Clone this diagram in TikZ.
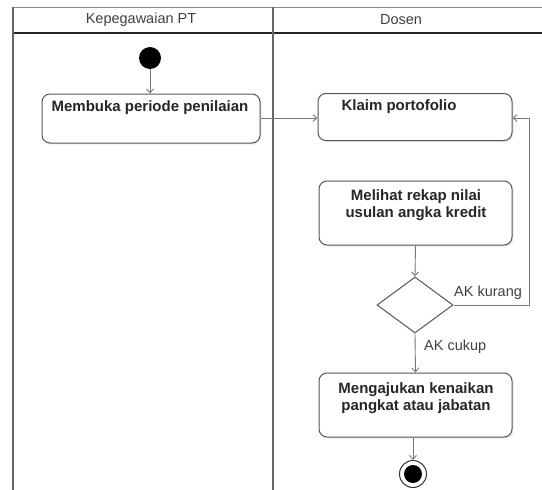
\documentclass[tikz,border=0pt]{standalone}
\usepackage{fontspec}
\setmainfont{Liberation Sans}
\usetikzlibrary{arrows.meta,shapes.geometric,shadows}
\definecolor{lanec}{HTML}{666666}
\definecolor{boxc}{HTML}{555555}
\definecolor{arrc}{HTML}{777777}
\tikzset{
  act/.style={draw=boxc, line width=1pt, rounded corners=8pt, fill=white,
    drop shadow={opacity=0.15, shadow xshift=1.5pt, shadow yshift=-1.5pt},
    minimum width=#1, inner sep=0pt},
  acttext/.style={font=\bfseries\fontsize{15}{17}\selectfont, text=black!85, align=center, inner sep=0pt},
  flow/.style={draw=arrc, line width=0.9pt, -{Straight Barb[length=4pt,width=7pt]}},
  lbl/.style={font=\fontsize{14.5}{16}\selectfont, text=black!75, inner sep=0pt},
  lane/.style={draw=lanec, line width=1.6pt},
}
\begin{document}
\begin{tikzpicture}[x=1pt,y=-1pt]
\useasboundingbox (0,0) rectangle (542,490);
% swimlanes
\draw[draw=black!45, line width=1pt] (13,7) -- (542,7);
\draw[draw=black!85, line width=1.3pt] (13,33) -- (542,33);
\draw[lane] (13,7) -- (13,490);
\draw[lane] (273,7) -- (273,490);
\node[lbl, font=\fontsize{14.5}{16}\selectfont] (h1) at (141,20) {Kepegawaian PT};
\node[lbl, font=\fontsize{14.5}{16}\selectfont] (h2) at (401,20) {Dosen};
% start
\node[circle, fill=black, minimum size=22pt, inner sep=0pt] (start) at (150,58) {};
% activities
\node[act=218pt, minimum height=49pt] (b1) at (151,118.5) {};
\node[acttext] (t1) at (150,108) {Membuka periode penilaian};
\node[act=194pt, minimum height=47pt] (b2) at (415,117) {};
\node[acttext] (t2) at (399,107) {Klaim portofolio};
\node[act=193pt, minimum height=64pt] (b3) at (415.5,213) {};
\node[acttext] (t3) at (416,205) {Melihat rekap nilai\\usulan angka kredit};
\node[act=193pt, minimum height=64pt] (b4) at (415.5,405) {};
\node[acttext] (t4) at (416,398) {Mengajukan kenaikan\\pangkat atau jabatan};
% decision
\node[diamond, draw=boxc, line width=1pt, fill=white, minimum width=76pt, minimum height=56pt, inner sep=0pt] (d) at (415,305) {};
% end
\node[circle, draw=black!80, line width=1pt, fill=white, minimum size=27pt, inner sep=0pt] (end) at (413,474) {};
\node[circle, fill=black, minimum size=18pt, inner sep=0pt] (endin) at (413,474) {};
% flows
\draw[flow] (start) -- (b1.north -| start);
\draw[flow] (b1.east |- 0,118) -- (b2.west |- 0,118);
\draw[flow] (b3.south) -- (d.north);
\draw[flow] (d.east) -- (529,305) -- (529,118) -- (b2.east |- 0,118);
\node[lbl, anchor=west] (lk) at (454,293) {AK kurang};
\draw[flow] (d.south) -- (b4.north);
\node[lbl, anchor=west] (lc) at (424,347) {AK cukup};
\draw[flow] (b4.south -| end) -- (end.north);
\end{tikzpicture}
\end{document}
